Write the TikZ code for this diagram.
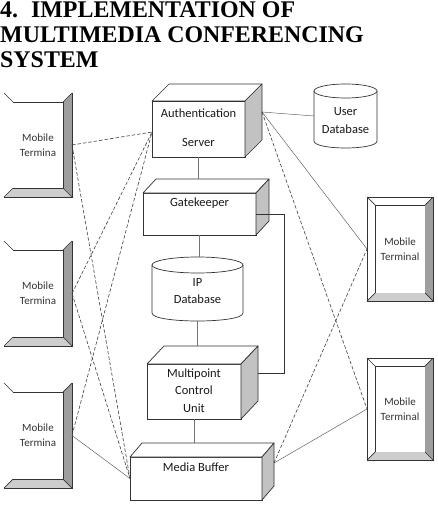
\documentclass[tikz,border=0pt]{standalone}
\usepackage{fontspec}
\setmainfont{Carlito}
\newfontfamily\titlefont{Liberation Serif}
\usetikzlibrary{calc}
\definecolor{side}{HTML}{C2C2C2}
\definecolor{darkbevel}{HTML}{9E9E9E}
\definecolor{lightbevel}{HTML}{CDCDCD}
\newcommand{\cubefaces}[3]{%
  \draw[edge, fill=white, line join=round] (#1.north west) -- ++(#2,-#3) -- ($(#1.north east)+(#2,-#3)$) -- (#1.north east) -- cycle;
  \draw[edge, fill=side, line join=round] (#1.north east) -- ($(#1.north east)+(#2,-#3)$) -- ($(#1.south east)+(#2,-#3)$) -- (#1.south east) -- cycle;}
\newcommand{\bevelframe}[2]{%
  \fill[darkbevel] (#1.north east) -- ++(#2,-#2) -- ($(#1.south east)+(#2,#2)$) -- (#1.south east) -- cycle;
  \fill[lightbevel] (#1.south west) -- ++(-#2,#2) -- ($(#1.south east)+(#2,#2)$) -- (#1.south east) -- cycle;
  \draw[edge] (#1.north east) -- ++(#2,-#2) (#1.south east) -- ++(#2,#2) (#1.south west) -- ++(-#2,#2) (#1.north west) -- ++(-#2,-#2);}
\newcommand{\cylshape}[5]{% cx, top cy, bottom cy, rx, ry
  \fill[white] ({#1-#4},#2) -- ({#1-#4},#3) .. controls ({#1-#4},{#3+1.333*#5}) and ({#1+#4},{#3+1.333*#5}) .. ({#1+#4},#3) -- ({#1+#4},#2) -- cycle;
  \draw[edge] ({#1-#4},#2) -- ({#1-#4},#3) .. controls ({#1-#4},{#3+1.333*#5}) and ({#1+#4},{#3+1.333*#5}) .. ({#1+#4},#3) -- ({#1+#4},#2);
  \draw[edge, fill=white] (#1,#2) ellipse [x radius=#4pt, y radius=#5pt];}
\begin{document}
\begin{tikzpicture}[x=1pt,y=-1pt,
  edge/.style={draw=black!80, line width=0.7pt},
  face/.style={edge, fill=white, inner sep=0pt, outer sep=0pt},
  lbl/.style={inner sep=0pt, font=\fontsize{12.5}{15}\selectfont, text=black!90},
  term/.style={inner sep=0pt, outer sep=0pt, fill=white, minimum width=50pt, align=center, text=black!80, font=\fontsize{11}{12}\selectfont},
  dashlink/.style={draw=black!75, line width=0.6pt, dash pattern=on 3.5pt off 2pt},
  thinlink/.style={draw=black!65, line width=0.45pt},
  vlink/.style={draw=black!55, line width=0.6pt},
  titletext/.style={anchor=base west, inner sep=0pt, font=\titlefont\bfseries\fontsize{23.9}{26}\selectfont}]
\useasboundingbox (0,0) rectangle (437,505);
\fill[white] (0,0) rectangle (437,505);

% title
\node[titletext] (t1) at (0,18) {4.\hspace{13pt}IMPLEMENTATION OF};
\node[titletext] (t2) at (0,43) {MULTIMEDIA CONFERENCING};
\node[titletext] (t3) at (0,68) {SYSTEM};

% central boxes
\node[face, minimum width=93pt, minimum height=56pt] (auth) at (198.5,129) {};
\cubefaces{auth}{17}{17}
\node[lbl] (authT1) at (198.5,113) {Authentication};
\node[lbl] (authT2) at (198.5,142) {Server};

\node[face, minimum width=113pt, minimum height=42pt] (gk) at (199.5,214) {};
\cubefaces{gk}{13}{14}
\node[lbl] (gkT) at (199.5,203) {Gatekeeper};

\cylshape{197.5}{265}{313}{45.5}{8}
\node[minimum width=91pt, minimum height=64pt, inner sep=0pt, outer sep=0pt] (ipdb) at (197.5,289) {};
\node[lbl, align=center] (ipdbT) at (197.5,291.5) {IP\\[2pt]Database};

\node[face, minimum width=94pt, minimum height=55pt] (mcu) at (194,391.5) {};
\cubefaces{mcu}{17}{18}
\node[lbl, align=center] (mcuT) at (194,390.5) {Multipoint\\[2.5pt]Control\\[2.5pt]Unit};

\node[face, minimum width=132pt, minimum height=43pt] (mb) at (196,478.5) {};
\cubefaces{mb}{12}{14}
\node[lbl] (mbT) at (196,467) {Media Buffer};

\cylshape{345.5}{91}{141}{31.5}{7}
\node[minimum width=63pt, minimum height=64pt, inner sep=0pt, outer sep=0pt] (udb) at (345.5,116) {};
\node[lbl, align=center] (udbT) at (345.5,121) {User\\[3pt]Database};

% left terminals
\node[term, minimum height=86pt] (lt1) at (38,145) {Mobile\\[3pt]Termina};
\node[term, minimum height=87pt] (lt2) at (38,293.5) {Mobile\\[3pt]Termina};
\node[term, minimum height=87pt] (lt3) at (38,435.5) {Mobile\\[3pt]Termina};
\foreach \n in {lt1,lt2,lt3}{
  \bevelframe{\n}{9}
  \draw[edge] (\n.north west) -- (\n.north east) -- (\n.south east) -- (\n.south west);
  \draw[edge] ($(\n.north east)+(9,-9)$) -- ($(\n.south east)+(9,9)$) -- ($(\n.south west)+(-9,9)$);
}

% right terminals
\node[term, draw=black!80, line width=0.7pt, minimum height=88pt] (rt1) at (400,249) {Mobile\\[3pt]Terminal};
\node[term, draw=black!80, line width=0.7pt, minimum height=86pt] (rt2) at (400,409) {Mobile\\[3pt]Terminal};
\foreach \n in {rt1,rt2}{
  \bevelframe{\n}{8}
  \draw[edge] ($(\n.north west)+(-8,-8)$) rectangle ($(\n.south east)+(8,8)$);
}

% connection points
\coordinate (authL) at ($(auth.west)+(0,3)$);
\coordinate (authR) at ($(auth.north east)+(17,11)$);
\coordinate (mbR) at ($(mb.north east)+(12,6)$);
\coordinate (gkTop) at ($(gk.north)+(0,-14)$);
\coordinate (mcuTop) at ($(mcu.north)+(0,-18)$);
\coordinate (mbTop) at ($(mb.north)+(0,-14)$);
\coordinate (mcuR) at ($(mcu.north east)+(17,9)$);
\coordinate (lt1p) at ($(lt1.east)+(9,0)$);
\coordinate (lt2p) at ($(lt2.east)+(9,0)$);
\coordinate (lt3p) at ($(lt3.east)+(9,0)$);
\coordinate (rt1p) at ($(rt1.west)+(-8,0)$);
\coordinate (rt2p) at ($(rt2.west)+(-8,0)$);

% backbone links
\draw[vlink] (auth.south) -- (auth.south |- gkTop);
\draw[vlink] (gk.south) -- (gk.south |- ipdb.north);
\draw[vlink] (ipdb.south) -- (ipdb.south |- mcuTop);
\draw[vlink] (mcu.south) -- (mcu.south |- mbTop);
\draw[edge] (gk.east) -- ++(28,0) |- (mcuR);
\draw[thinlink] (authR) -- (udb.west);

% terminal links
\draw[dashlink] (lt1p) -- (authL);
\draw[dashlink] (lt2p) -- (authL);
\draw[dashlink] (lt3p) -- (authL);
\draw[dashlink] (lt1p) -- (mb.west);
\draw[dashlink] (lt2p) -- (mb.west);
\draw[thinlink] (lt3p) -- (mb.west);
\draw[thinlink] (authR) -- (rt1p);
\draw[dashlink] (authR) -- (rt2p);
\draw[dashlink] (mbR) -- (rt1p);
\draw[thinlink] (mbR) -- (rt2p);
\end{tikzpicture}
\end{document}
